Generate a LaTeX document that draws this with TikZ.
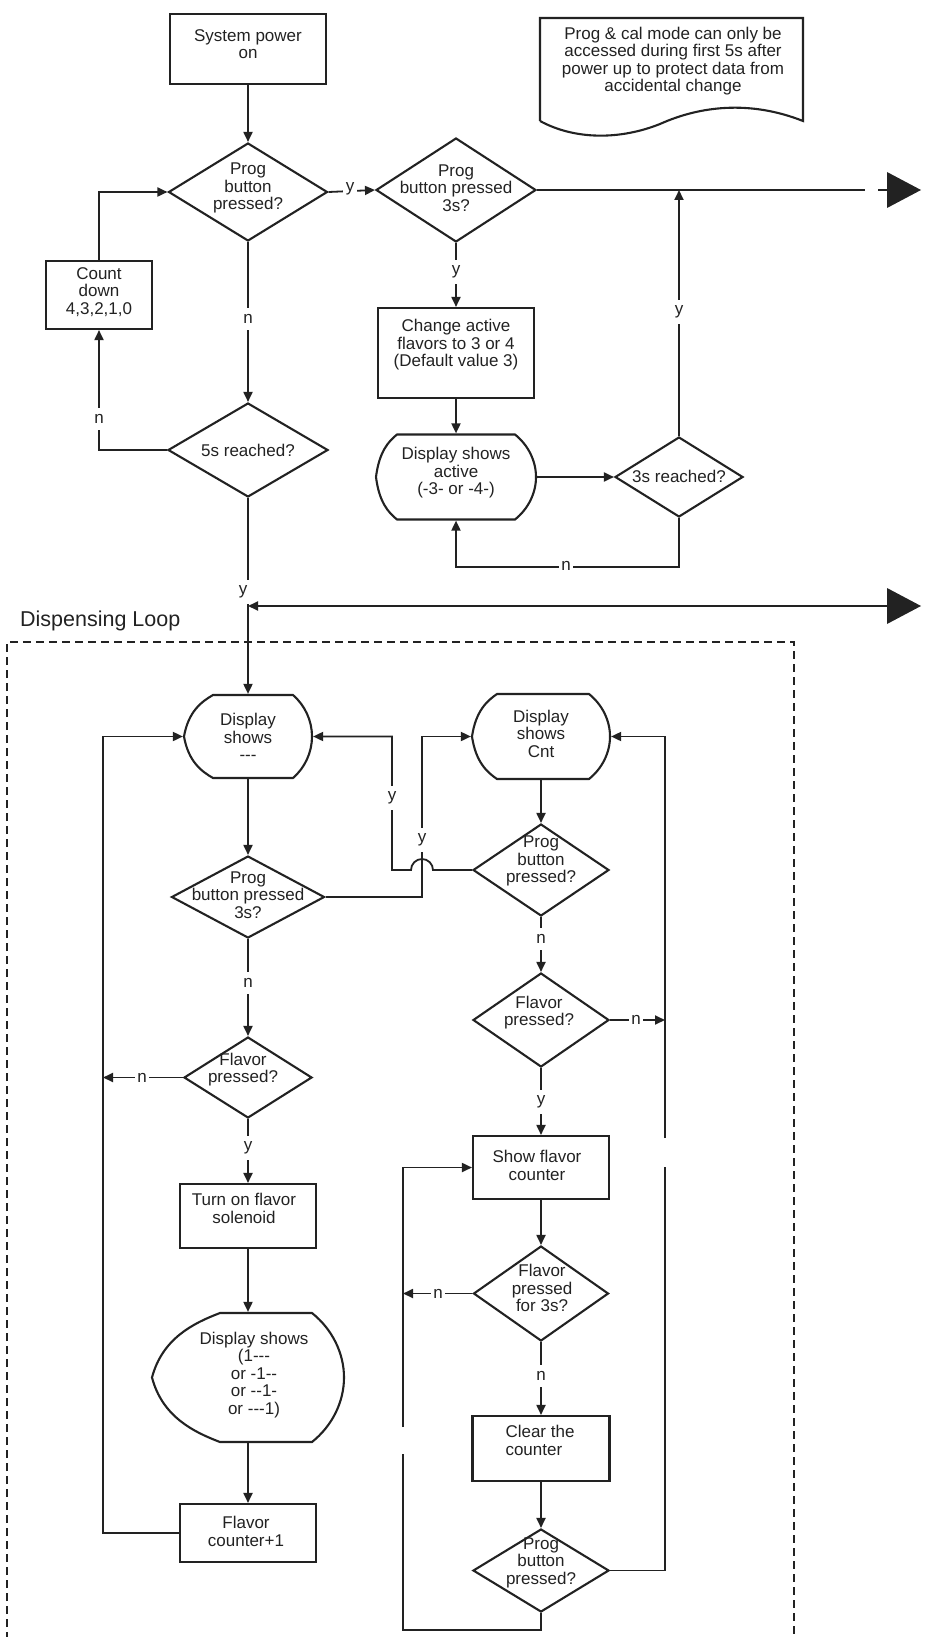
\documentclass[tikz,border=0pt]{standalone}
\usepackage{fontspec}
\setmainfont{Liberation Sans}
\usetikzlibrary{shapes.geometric,arrows.meta,calc}
\definecolor{ink}{HTML}{222222}
\newcommand\dispnode[7]{%
  \pgfmathsetmacro\dXl{#2-#4/2}\pgfmathsetmacro\dXr{#2+#4/2}%
  \pgfmathsetmacro\dYt{#3-#5/2}\pgfmathsetmacro\dYb{#3+#5/2}%
  \node[rectangle, inner sep=0pt, outer sep=1.1pt, minimum width=#4, minimum height=#5] (#1) at (#2,#3) {};
  \draw[shp] ({\dXl+#6},\dYt) -- ({\dXr-#7},\dYt)
    .. controls ({\dXr-0.37*#7},{\dYt+0.125*#5}) and (\dXr,{#3-0.19*#5}) .. (\dXr,#3)
    .. controls (\dXr,{#3+0.19*#5}) and ({\dXr-0.37*#7},{\dYb-0.125*#5}) .. ({\dXr-#7},\dYb)
    -- ({\dXl+#6},\dYb)
    .. controls ({\dXl+0.6*#6},{\dYb-0.08*#5}) and ({\dXl+0.15*#6},{#3+0.3*#5}) .. (\dXl,#3)
    .. controls ({\dXl+0.15*#6},{#3-0.3*#5}) and ({\dXl+0.6*#6},{\dYt+0.08*#5}) .. cycle;
}
\begin{document}
\begin{tikzpicture}[x=1pt,y=-1pt,
  every node/.style={font=\fontsize{17}{17.5}\selectfont, text=ink},
  shp/.style={draw=ink, line width=2.1pt},
  boxn/.style={shp, rectangle, inner sep=0pt},
  dia/.style={shp, diamond, inner sep=0pt},
  txt/.style={align=center, inner sep=0pt},
  labh/.style={fill=white, inner xsep=2.5pt, inner ysep=1pt},
  labv/.style={fill=white, inner xsep=2pt, inner ysep=6pt},
  conn/.style={draw=ink, line width=1.8pt},
  arr/.style={conn, -{Triangle[length=10pt,width=9pt]}},
  dashbox/.style={draw=ink, line width=1.5pt, dash pattern=on 8pt off 5pt}
]
\useasboundingbox (0,0) rectangle (926,1637);

% ---------- top part ----------
\node[boxn, minimum width=156, minimum height=70] (power) at (248,49) {};
\node[txt] (power-t) at (248,44) {System power\\on};

\node[dia, minimum width=159, minimum height=98] (d1) at (248,192) {};
\node[txt] (d1-t) at (248,188) {Prog\\button\\pressed?};

\node[dia, minimum width=160, minimum height=104] (d2) at (456,190) {};
\node[txt] (d2-t) at (456,188) {Prog\\button pressed\\3s?};

\node[txt] (note-t) at (673,61) {Prog \& cal mode can only be\\accessed during first 5s after\\power up to protect data from\\accidental change};
\draw[shp] (540,121) -- (540,18) -- (803,18) -- (803,121)
  .. controls (750,100) and (700,106) .. (660,124)
  .. controls (620,140) and (575,140) .. (540,121);

\node[boxn, minimum width=106, minimum height=68] (count) at (99,295) {};
\node[txt] (count-t) at (99,292) {Count\\down\\4,3,2,1,0};

\node[boxn, minimum width=156, minimum height=90] (change) at (456,353) {};
\node[txt] (change-t) at (456,345) {Change active\\flavors to 3 or 4\\(Default value 3)};

\node[dia, minimum width=160, minimum height=94] (d3) at (248,450) {};
\node[txt] (d3-t) at (248,450) {5s reached?};

\dispnode{dispAct}{456}{477}{160}{85}{21}{21}
\node[txt] (dispAct-t) at (456,473) {Display shows\\active\\(-3- or -4-)};

\node[dia, minimum width=128, minimum height=80] (d4) at (679,477) {};
\node[txt] (d4-t) at (679,476) {3s reached?};

% ---------- top connectors ----------
\draw[arr] (power.south) -- (d1.north);
\draw[arr] (d1.east) -- (d2.west);
\node[labh] (ly1) at (350,189) {y};
\draw[conn] (d2.east) -- (865,190);
\draw[conn] (878,190) -- (888,190);
\fill[ink] (887,172) -- (921,190) -- (887,208) -- cycle;
\draw[arr] (d2.south) -- (change.north);
\node[labv] (ly2) at (456,272) {y};
\draw[arr] (change.south) -- (dispAct.north);
\draw[arr] (dispAct.east) -- (d4.west);
\draw[arr] (d4.north) -- (d4.north |- d2.east);
\node[labv] (ly3) at (679,312) {y};
\draw[arr] (d4.south) -- ++(0,49) -| (dispAct.south);
\node[labh] (ln1) at (566,566) {n};
\draw[arr] (d1.south) -- (d3.north);
\node[labv] (ln2) at (248,319) {n};
\draw[arr] (d3.west) -| (count.south);
\node[labv] (ln3) at (99,419) {n};
\draw[arr] (count.north) |- (d1.west);

% ---------- dispensing loop frame ----------
\draw[dashbox] (7,1640) -- (7,642) -- (794,642) -- (794,1640);
\node[anchor=west, inner sep=0pt, font=\fontsize{21.5}{24}\selectfont] (loop) at (20,621) {Dispensing Loop};

\coordinate (jn) at (248,606);
\coordinate (rt2) at (887,606);
\draw[arr] (rt2) -- (jn);
\fill[ink] (887,588) -- (921,606) -- (887,624) -- cycle;

% ---------- left column ----------
\dispnode{dispA}{248}{736.5}{128}{83}{29}{19}
\node[txt] (dispA-t) at (248,737) {Display\\shows\\-{}-{}-};

\node[dia, minimum width=153, minimum height=82] (d5) at (248,897) {};
\node[txt] (d5-t) at (248,895) {Prog\\button pressed\\3s?};

\node[dia, minimum width=128, minimum height=81] (d7) at (248,1077.5) {};
\node[txt] (d7-t) at (243,1069.5) {Flavor\\pressed?};

\node[boxn, minimum width=136, minimum height=64] (turn) at (248,1216) {};
\node[txt] (turn-t) at (244,1208.5) {Turn on flavor\\solenoid};

\dispnode{dispC}{248}{1377.5}{192}{129}{68}{32}
\node[txt] (dispC-t) at (254,1375) {Display shows\\(1-{}-{}-\\or -1-{}-\\or -{}-1-\\or -{}-{}-1)};

\node[boxn, minimum width=136, minimum height=58] (fc1) at (248,1533) {};
\node[txt] (fc1-t) at (246,1531.5) {Flavor\\counter+1};

% ---------- right column ----------
\dispnode{dispB}{541}{736.5}{138}{85}{25}{21}
\node[txt] (dispB-t) at (541,733.5) {Display\\shows\\Cnt};

\node[dia, minimum width=136, minimum height=92] (d6) at (541,870) {};
\node[txt] (d6-t) at (541,861) {Prog\\button\\pressed?};

\node[dia, minimum width=136, minimum height=94] (d8) at (541,1020) {};
\node[txt] (d8-t) at (539,1012.5) {Flavor\\pressed?};

\node[boxn, minimum width=136, minimum height=63] (show) at (541,1167.5) {};
\node[txt] (show-t) at (537,1165.5) {Show flavor\\counter};

\node[dia, minimum width=135, minimum height=95] (d9) at (541,1293.5) {};
\node[txt] (d9-t) at (542,1288) {Flavor\\pressed\\for 3s?};

\node[boxn, minimum width=137, minimum height=65] (clear) at (541,1448.5) {};
\node[txt, align=left] (clear-t) at (540,1440.5) {Clear the\\counter};

\node[dia, minimum width=136, minimum height=83] (d10) at (541,1570.5) {};
\node[txt] (d10-t) at (541,1562.5) {Prog\\button\\pressed?};

% ---------- loop connectors ----------
\draw[arr] (d3.south) -- (dispA.north);
\node[labv] (ly4) at (243,592) {y};
\draw[arr] (dispA.south) -- (d5.north);
\draw[arr] (d5.south) -- (d7.north);
\node[labv] (ln4) at (248,983) {n};
\draw[arr] (d7.west) -- (103,1077.5);
\node[labh] (ln5) at (142,1077.5) {n};
\draw[arr] (d7.south) -- (turn.north);
\node[labv] (ly5) at (248,1148) {y};
\draw[arr] (turn.south) -- (dispC.north);
\draw[arr] (dispC.south) -- (fc1.north);
\draw[arr] (fc1.west) -- (103,1533) |- (dispA.west);

\draw[arr] (d5.east) -| (422,736.5) -- (dispB.west);
\node[labv] (ly6) at (422,840) {y};
\draw[arr] (d6.west) -- (433,870) arc[start angle=0, end angle=180, radius=11pt] -- (392,870) |- (dispA.east);
\node[labv] (ly7) at (392,798) {y};

\draw[arr] (dispB.south) -- (d6.north);
\draw[arr] (d6.south) -- (d8.north);
\node[labv] (ln6) at (541,939) {n};
\draw[arr] (d8.east) -- (665,1020);
\node[labh] (ln7) at (636,1020) {n};
\draw[arr] (d8.south) -- (show.north);
\node[labv] (ly8) at (541,1102) {y};
\draw[arr] (show.south) -- (d9.north);
\draw[arr] (d9.west) -- (403,1293.5);
\node[labh] (ln8) at (438,1293.5) {n};
\draw[arr] (d9.south) -- (clear.north);
\node[labv] (ln9) at (541,1376) {n};
\draw[arr] (clear.south) -- (d10.north);
\draw[conn] (d10.south) -- ++(0,17) -| (403,1454);
\draw[arr] (403,1427) |- (show.west);
\draw[conn] (d10.east) -| (665,1167);
\draw[arr] (665,1138) |- (dispB.east);
\end{tikzpicture}
\end{document}
